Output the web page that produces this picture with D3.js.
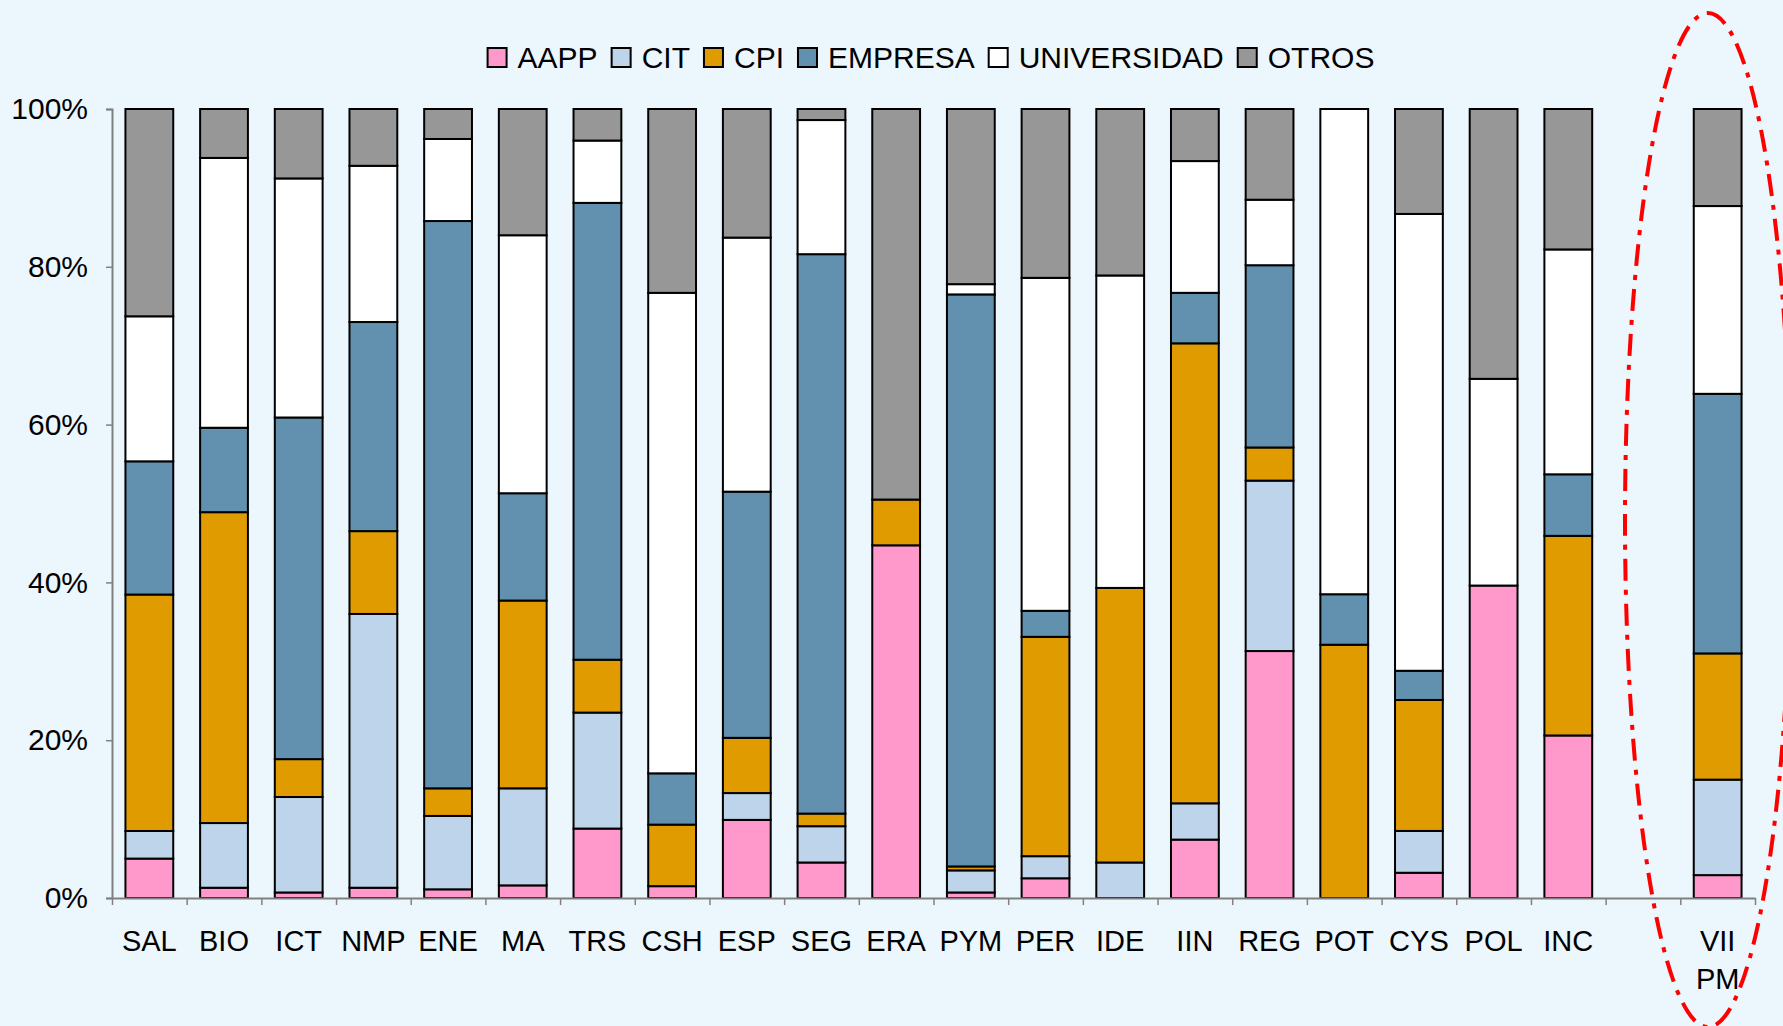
<!DOCTYPE html>
<html>
<head>
<meta charset="utf-8">
<script src="https://cdn.jsdelivr.net/npm/d3@7"></script>
<style>
  html, body { margin: 0; padding: 0; background: #ecf6fd; }
  svg { display: block; font-family: "Liberation Sans", Arial, sans-serif; }
</style>
</head>
<body>
<svg id="chart" width="1783" height="1026"></svg>
<script>
// categories (thematic areas) + the VII PM total
var categories = ["SAL", "BIO", "ICT", "NMP", "ENE", "MA", "TRS", "CSH", "ESP", "SEG",
                  "ERA", "PYM", "PER", "IDE", "IIN", "REG", "POT", "CYS", "POL", "INC", "VII PM"];

// shares in %
var aapp        = [5.0, 1.3, 0.7, 1.3, 1.1, 1.6, 8.8, 1.5, 9.9, 4.5, 44.7, 0.7, 2.5, 0.0, 7.4, 31.3, 0.0, 3.2, 39.6, 20.6, 2.9];
var cit         = [3.5, 8.2, 12.1, 34.7, 9.3, 12.3, 14.7, 0.0, 3.4, 4.6, 0.0, 2.8, 2.8, 4.5, 4.6, 21.6, 0.0, 5.3, 0.0, 0.0, 12.1];
var cpi         = [30.0, 39.4, 4.8, 10.5, 3.5, 23.8, 6.7, 7.8, 7.0, 1.6, 5.8, 0.5, 27.8, 34.8, 58.3, 4.2, 32.1, 16.6, 0.0, 25.3, 16.0];
var empresa     = [16.9, 10.7, 43.3, 26.5, 71.9, 13.6, 57.9, 6.5, 31.2, 70.9, 0.0, 72.5, 3.3, 0.0, 6.4, 23.1, 6.4, 3.7, 0.0, 7.8, 32.9];
var universidad = [18.4, 34.2, 30.3, 19.8, 10.4, 32.7, 7.9, 60.9, 32.2, 17.0, 0.0, 1.3, 42.2, 39.6, 16.7, 8.3, 61.5, 57.9, 26.2, 28.5, 23.8];
var otros       = [26.3, 6.2, 8.8, 7.2, 3.8, 16.0, 4.0, 23.3, 16.3, 1.4, 49.5, 22.2, 21.4, 21.1, 6.6, 11.5, 0.0, 13.3, 34.2, 17.8, 12.3];

var seriesNames = ["AAPP", "CIT", "CPI", "EMPRESA", "UNIVERSIDAD", "OTROS"];
var seriesColors = ["#ff99cc", "#bed4ea", "#df9b00", "#6291b0", "#ffffff", "#979797"];
var yTicks = [0, 0.2, 0.4, 0.6, 0.8, 1];

var seriesValues = [aapp, cit, cpi, empresa, universidad, otros];
var rows = categories.map(function (c, i) {
    var r = { cat: c };
    seriesNames.forEach(function (s, k) { r[s] = seriesValues[k][i]; });
    return r;
});

var svg = d3.select("#chart");
var plotLeft = 112, plotRight = 1755, plotTop = 109, plotBottom = 898;

// one empty slot before the VII PM total
var slots = categories.slice(0, 20).concat(["_gap"], categories.slice(20));

var x = d3.scaleBand()
    .domain(slots)
    .range([plotLeft, plotRight])
    .paddingInner(0.36)
    .paddingOuter(0.18);

var y = d3.scaleLinear().domain([0, 1]).range([plotBottom, plotTop]);

var stack = d3.stack()
    .keys(seriesNames)
    .offset(d3.stackOffsetExpand);
var stacked = stack(rows);

// bars
svg.append("g").selectAll("g")
    .data(stacked)
    .enter().append("g")
    .attr("fill", function (d, i) { return seriesColors[i]; })
    .selectAll("rect")
    .data(function (d) { return d.filter(function (p) { return p[1] - p[0] > 0; }); })
    .enter().append("rect")
    .attr("x", function (d) { return x(d.data.cat); })
    .attr("width", x.bandwidth())
    .attr("y", function (d) { return y(d[1]); })
    .attr("height", function (d) { return y(d[0]) - y(d[1]); })
    .attr("stroke", "#000")
    .attr("stroke-width", 2);

// y axis
var yAxis = svg.append("g")
    .attr("transform", "translate(" + plotLeft + ",0)")
    .call(d3.axisLeft(y).tickValues(yTicks).tickFormat(d3.format(".0%")).tickSize(6).tickPadding(18));
yAxis.select(".domain").attr("stroke", "#808080").attr("stroke-width", 2);
yAxis.selectAll(".tick line").attr("stroke", "#808080").attr("stroke-width", 1.5);
yAxis.selectAll("text")
    .attr("font-size", 30)
    .attr("fill", "#000")
    .attr("font-family", "Liberation Sans, Arial, sans-serif");

// x axis: ticks at slot boundaries
var xEdge = d3.scaleLinear().domain([0, slots.length]).range([plotLeft, plotRight]);
var xAxis = svg.append("g")
    .attr("transform", "translate(0," + plotBottom + ")")
    .call(d3.axisBottom(xEdge).tickValues(d3.range(slots.length + 1)).tickFormat("").tickSize(7).tickSizeOuter(0));
xAxis.select(".domain").attr("stroke", "#808080").attr("stroke-width", 2);
xAxis.selectAll(".tick line").attr("stroke", "#808080").attr("stroke-width", 1.5);

// category labels
var labels = svg.append("g")
    .attr("font-size", 29)
    .attr("text-anchor", "middle")
    .selectAll("text")
    .data(categories)
    .enter().append("text")
    .attr("x", function (d) { return x(d) + x.bandwidth() / 2; })
    .attr("y", 951);
labels.selectAll("tspan")
    .data(function (d) { return d.split(" "); })
    .enter().append("tspan")
    .attr("x", function () { return this.parentNode.getAttribute("x"); })
    .attr("dy", function (d, i) { return i === 0 ? 0 : 38; })
    .text(function (d) { return d; });

// legend
var legend = svg.append("g").attr("font-size", 30);
var lx = 0, boxSize = 19;
seriesNames.forEach(function (s, i) {
    var g = legend.append("g");
    g.append("rect")
        .attr("x", lx).attr("y", 48)
        .attr("width", boxSize).attr("height", boxSize)
        .attr("fill", seriesColors[i])
        .attr("stroke", "#000").attr("stroke-width", 2);
    var t = g.append("text")
        .attr("x", lx + boxSize + 11)
        .attr("y", 68)
        .text(s);
    lx += boxSize + 11 + t.node().getComputedTextLength() + 14;
});
var legendWidth = lx - 14;
legend.attr("transform", "translate(" + (931 - legendWidth / 2) + ",0)");

// red dash-dot ellipse around VII PM
svg.append("ellipse")
    .attr("cx", 1708)
    .attr("cy", 520)
    .attr("rx", 83)
    .attr("ry", 507)
    .attr("fill", "none")
    .attr("stroke", "#ff0000")
    .attr("stroke-width", 4)
    .attr("stroke-dasharray", "22 9 5 9");
</script>
</body>
</html>
